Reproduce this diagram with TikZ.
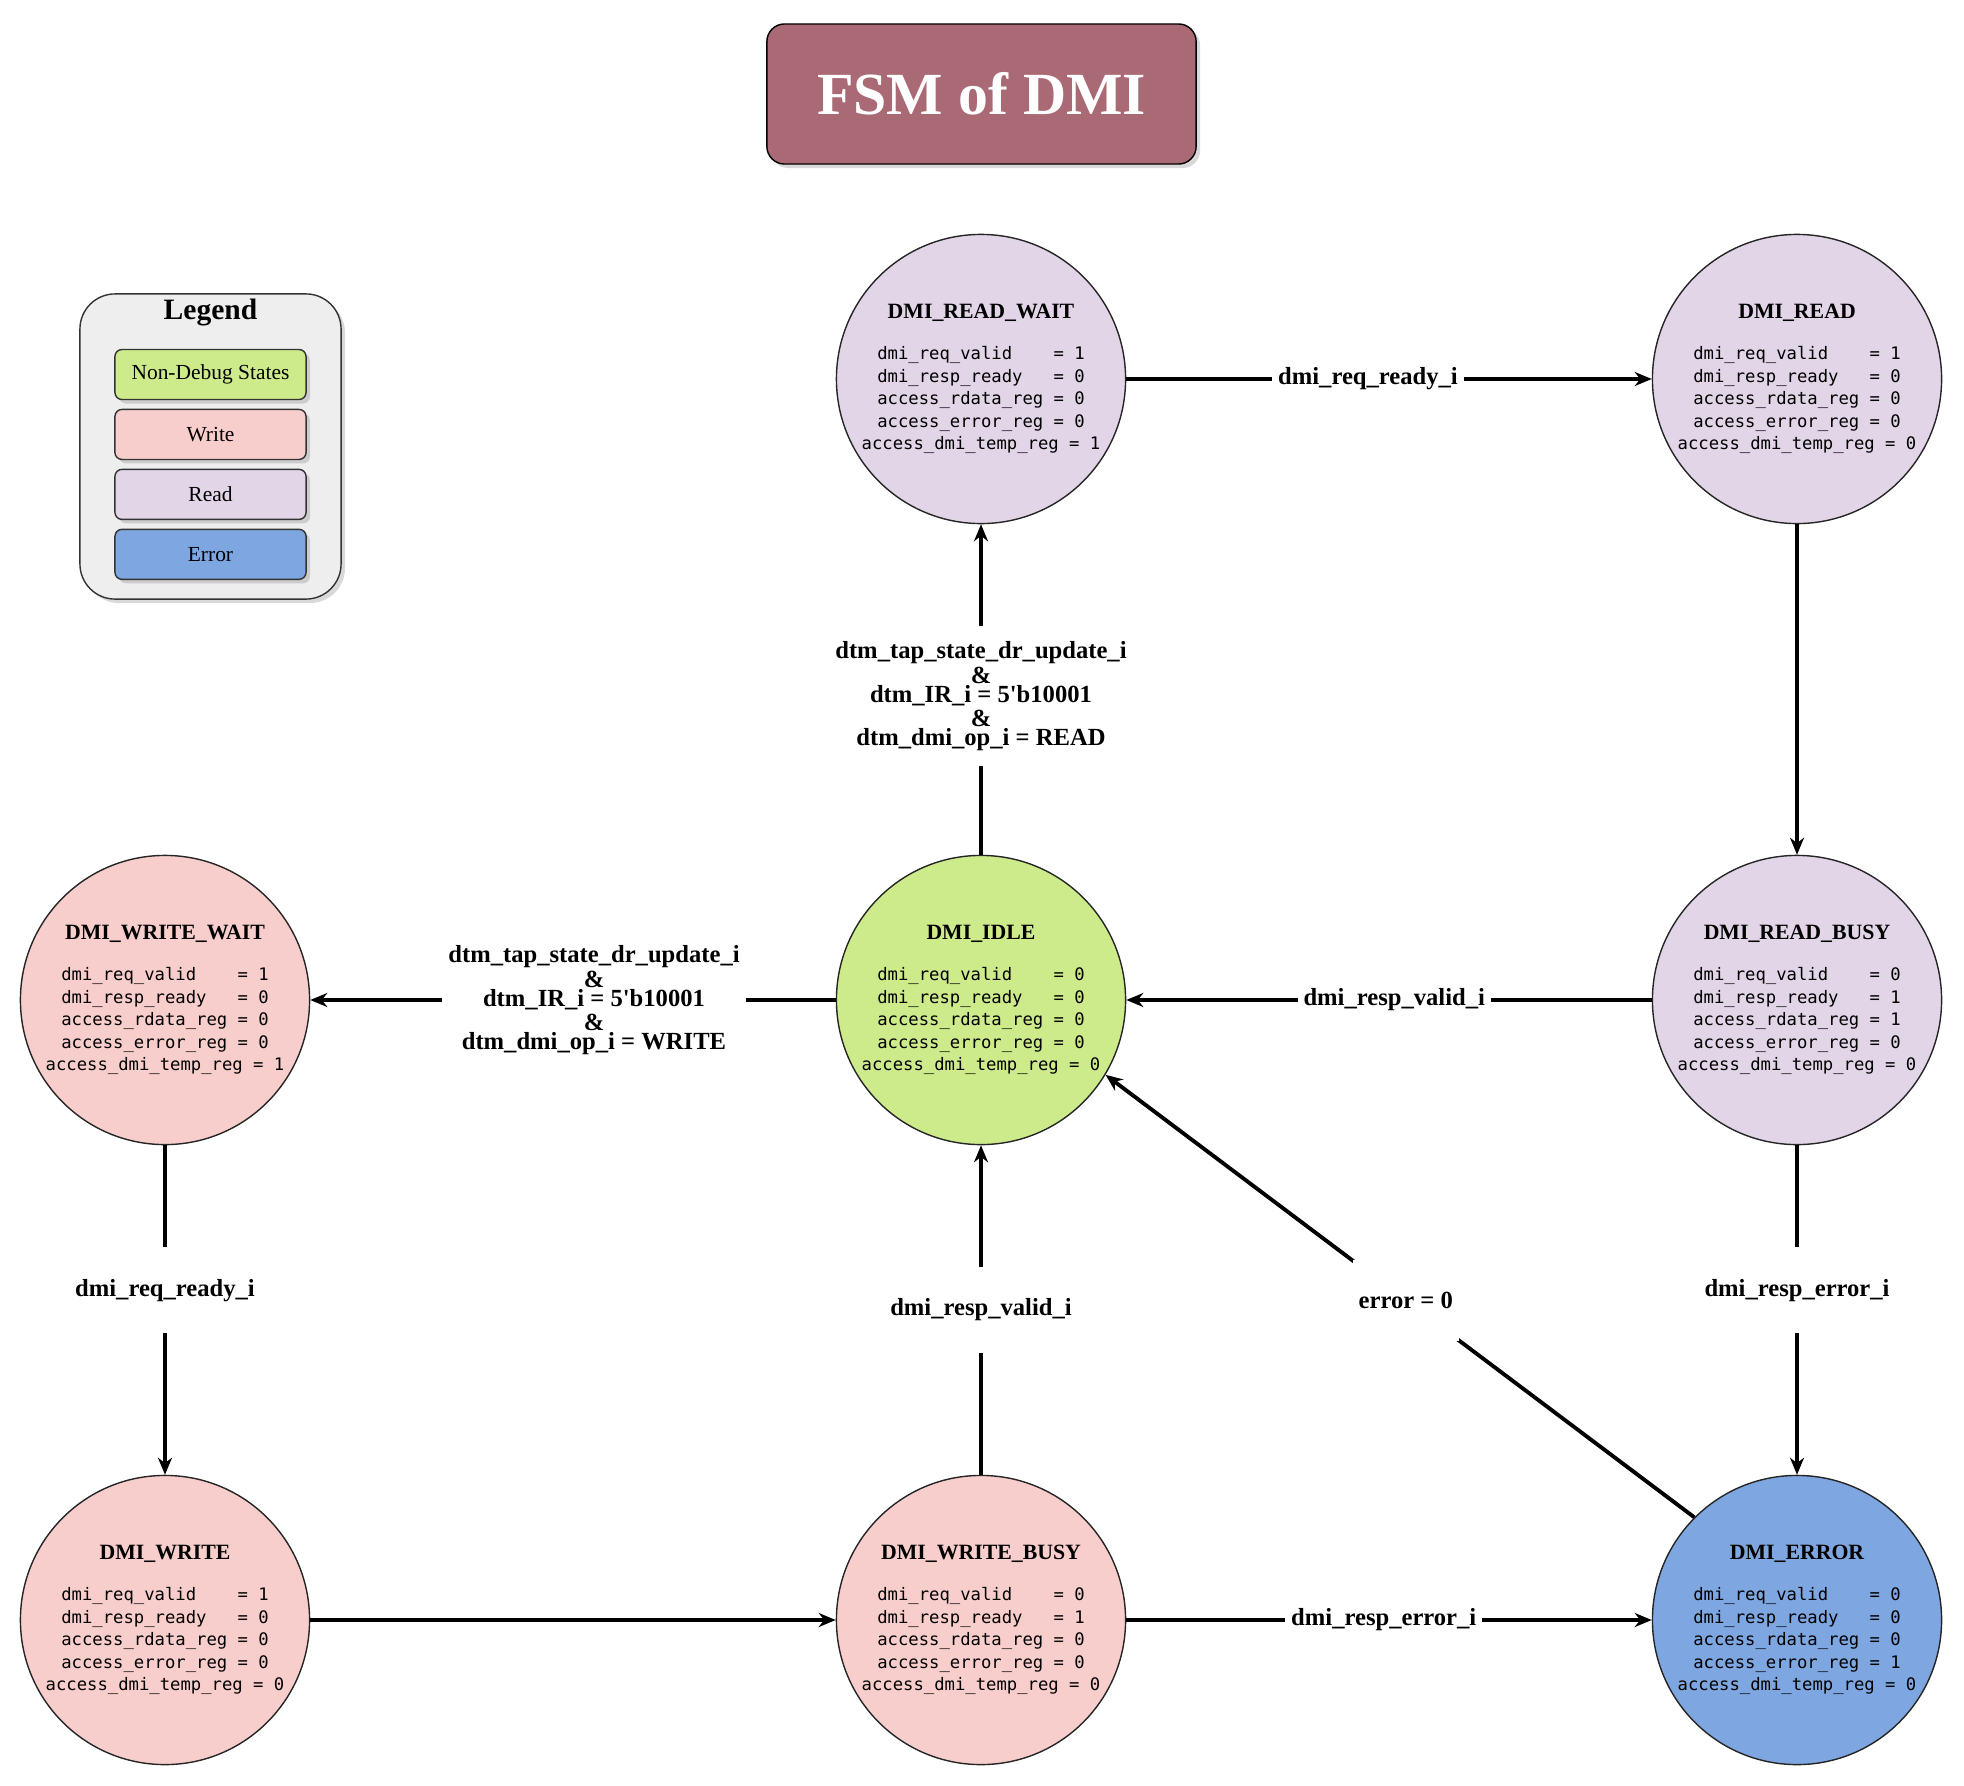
\documentclass[tikz,border=0pt]{standalone}
\usepackage{fontspec}
\setmainfont{Liberation Serif}
\setmonofont{DejaVu Sans Mono}
\usepackage{tikz}
\usetikzlibrary{arrows.meta,positioning,shadows}
\definecolor{ctitle}{HTML}{AA6A75}
\definecolor{cidle}{HTML}{CDEB8B}
\definecolor{cwrite}{HTML}{F8CECC}
\definecolor{cread}{HTML}{E1D5E7}
\definecolor{cerr}{HTML}{7EA6E0}
\definecolor{clegbg}{HTML}{EEEEEE}
\tikzset{
  state/.style={circle,draw=black!85,thin,minimum size=2.89cm,inner sep=0pt,align=center,
    font=\fontsize{4.9}{6.4}\selectfont\ttfamily},
  sidle/.style={state,fill=cidle},
  swrite/.style={state,fill=cwrite},
  sread/.style={state,fill=cread},
  serr/.style={state,fill=cerr},
  trans/.style={-{Stealth[length=1.7mm,width=1.4mm]},line width=1.1pt},
  cond/.style={fill=white,font=\fontsize{7}{5.4}\selectfont\bfseries,align=center,
    inner xsep=0.06cm,inner ysep=0.32cm},
  shd/.style={drop shadow={shadow xshift=0.04cm,shadow yshift=-0.04cm,opacity=0.3}},
}
\newcommand{\pad}[1]{\makebox[9.63em][l]{#1}}
\newcommand{\stxt}[6]{{\fontsize{6.2}{7}\selectfont\rmfamily\bfseries #1}\\[5.3pt]
  \pad{dmi\_req\_valid} = #2\\ \pad{dmi\_resp\_ready} = #3\\
  \pad{access\_rdata\_reg} = #4\\ \pad{access\_error\_reg} = #5\\
  access\_dmi\_temp\_reg = #6}

\begin{document}
\begin{tikzpicture}[
  x=0.01cm, y=-0.01cm,
  titlebox/.style={shd, draw=black, fill=ctitle, rounded corners=5pt, minimum width=4.29cm,
    minimum height=1.40cm, text=white, font=\fontsize{17}{20}\selectfont\bfseries},
  legbox/.style={shd, draw=black!80, fill=clegbg, rounded corners=10pt, minimum width=2.61cm,
    minimum height=3.05cm},
  legitem/.style={shd, draw=black!80, rounded corners=2pt, minimum width=1.91cm,
    minimum height=0.5cm, inner sep=0pt, font=\fontsize{6.1}{7}\selectfont},
]
\useasboundingbox (0,0) rectangle (1964,1785);

% ================= title =================
\node[titlebox] (ttl) at (981.5,94) {FSM of DMI};

% ================= legend =================
\node[legbox] (leg) at (210.5,446.5) {};
\node[font=\fontsize{8.4}{10}\selectfont\bfseries] (legt) at (210.5,313) {Legend};
\node[legitem, fill=cidle] (lg1) at (210.5,374.5) {Non-Debug States};
\node[legitem, fill=cwrite, below=0.085cm of lg1] (lg2) {Write};
\node[legitem, fill=cread, below=0.085cm of lg2] (lg3) {Read};
\node[legitem, fill=cerr, below=0.085cm of lg3] (lg4) {Error};

% ================= states =================
\node[sread] (rwait) at (981,379) {\stxt{DMI\_READ\_WAIT}{1}{0}{0}{0}{1}};
\node[sread] (rd) at (1797,379) {\stxt{DMI\_READ}{1}{0}{0}{0}{0}};
\node[swrite] (wwait) at (165,1000) {\stxt{DMI\_WRITE\_WAIT}{1}{0}{0}{0}{1}};
\node[sidle] (idle) at (981,1000) {\stxt{DMI\_IDLE}{0}{0}{0}{0}{0}};
\node[sread] (rbusy) at (1797,1000) {\stxt{DMI\_READ\_BUSY}{0}{1}{1}{0}{0}};
\node[swrite] (wr) at (165,1620) {\stxt{DMI\_WRITE}{1}{0}{0}{0}{0}};
\node[swrite] (wbusy) at (981,1620) {\stxt{DMI\_WRITE\_BUSY}{0}{1}{0}{0}{0}};
\node[serr] (err) at (1797,1620) {\stxt{DMI\_ERROR}{0}{0}{0}{1}{0}};

% ================= read path =================
\draw[trans] (idle) -- node[cond, pos=0.48, inner ysep=0.16cm]
  {dtm\_tap\_state\_dr\_update\_i\\\&\\dtm\_IR\_i = 5\textquotesingle b10001\\\&\\dtm\_dmi\_op\_i = READ} (rwait);
\draw[trans] (rwait) -- node[cond, pos=0.46] {dmi\_req\_ready\_i} (rd);
\draw[trans] (rd) -- (rbusy);
\draw[trans] (rbusy) -- node[cond, pos=0.49] {dmi\_resp\_valid\_i} (idle);
\draw[trans] (rbusy) -- node[cond, pos=0.44] {dmi\_resp\_error\_i} (err);

% ================= write path =================
\draw[trans] (idle) -- node[cond, pos=0.46, inner ysep=2pt]
  {dtm\_tap\_state\_dr\_update\_i\\\&\\dtm\_IR\_i = 5\textquotesingle b10001\\\&\\dtm\_dmi\_op\_i = WRITE} (wwait);
\draw[trans] (wwait) -- node[cond, pos=0.44] {dmi\_req\_ready\_i} (wr);
\draw[trans] (wr) -- (wbusy);
\draw[trans] (wbusy) -- node[cond, pos=0.5] {dmi\_resp\_valid\_i} (idle);
\draw[trans] (wbusy) -- node[cond, pos=0.49] {dmi\_resp\_error\_i} (err);

% ================= error recovery =================
\draw[trans] (err.135) -- node[cond, pos=0.49] {error = 0} (idle.-31);
\end{tikzpicture}
\end{document}
